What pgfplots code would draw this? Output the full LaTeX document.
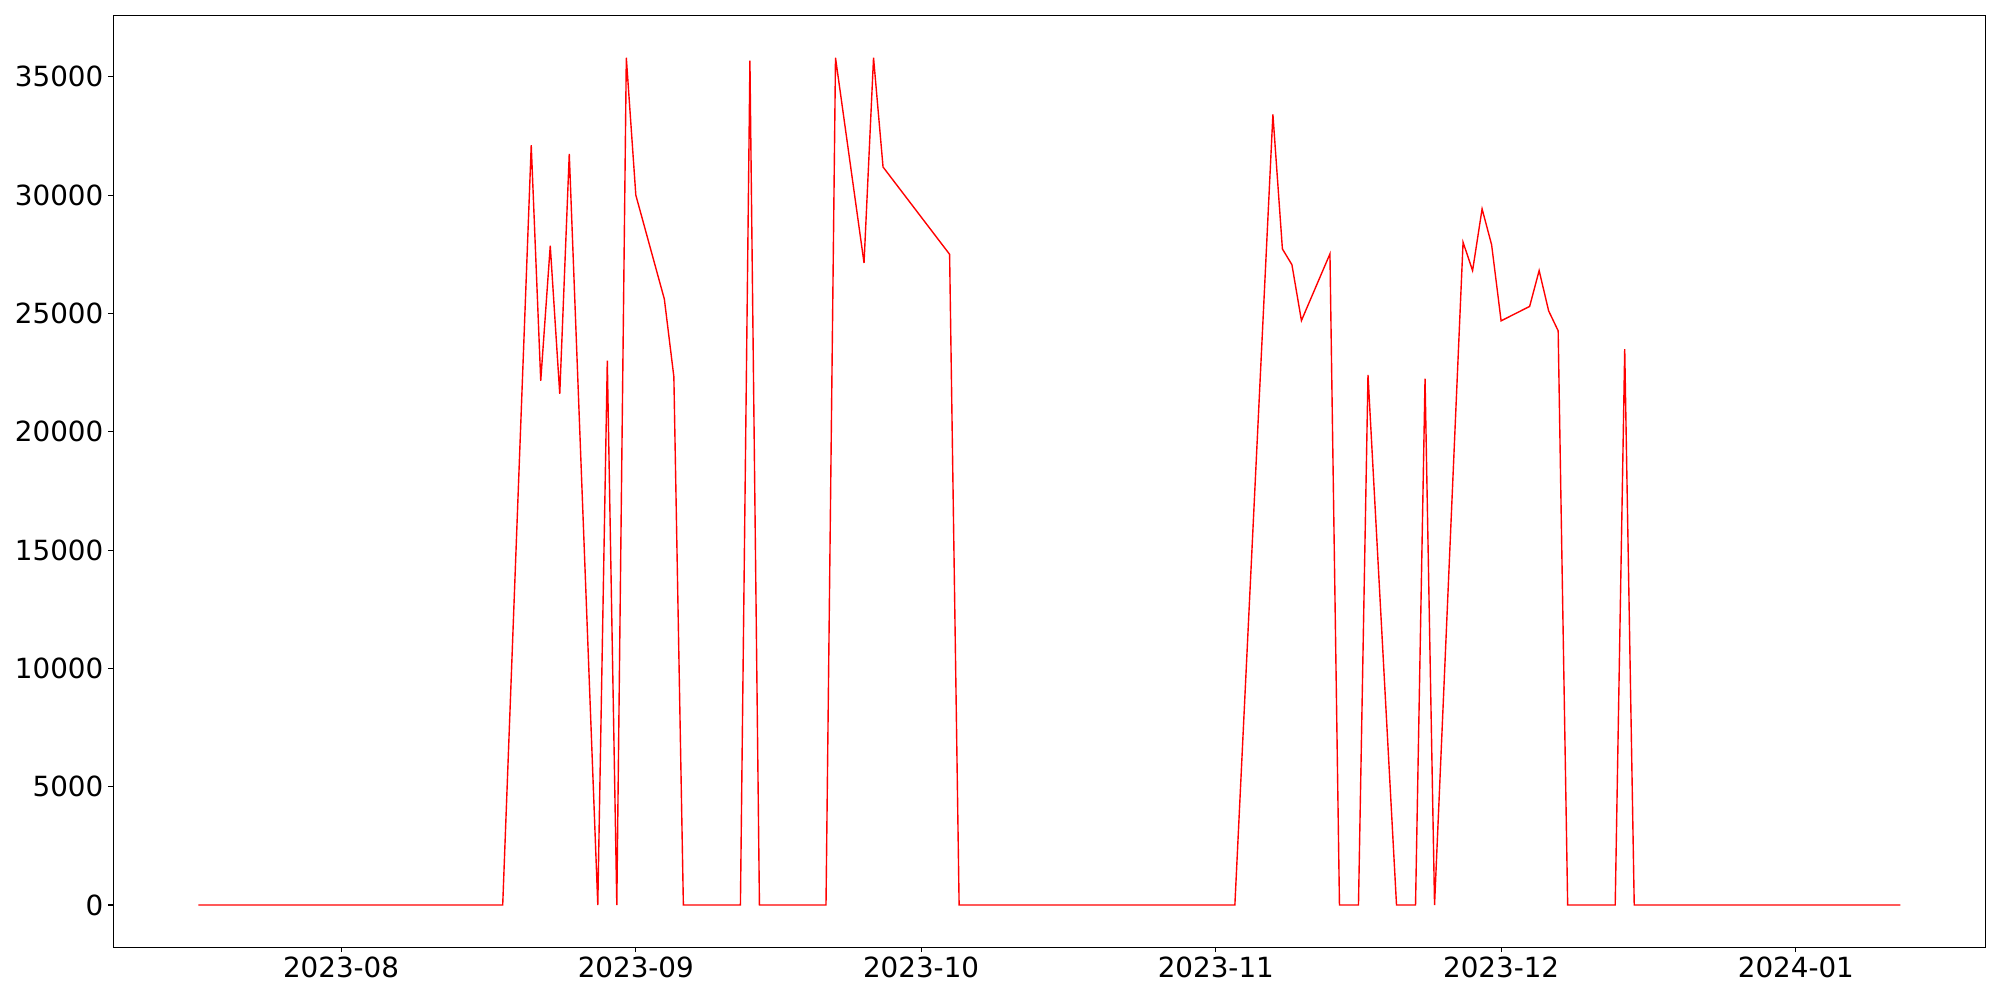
\documentclass[border=0pt]{standalone}
\usepackage{fontspec}
\setmainfont{DejaVu Sans}
\usepackage{pgfplots}
\pgfplotsset{compat=1.18}
\pgfplotstableread{
x y
-15 0
17 0
20 32112
21 22157
22 27863
23 21599
24 31748
27 0
28 23007
29 0
30 35806
31 30000
34 25605
35 22327
36 0
42 0
43 35681
44 0
51 0
52 35806
55 27135
56 35806
57 31189
64 27499
65 0
94 0
98 33412
99 27726
100 27061
101 24699
104 27519
105 0
107 0
108 22406
111 0
113 0
114 22245
115 0
118 28010
119 26812
120 29419
121 27905
122 24688
125 25298
126 26812
127 25108
128 24267
129 0
134 0
135 23489
136 0
164 0
}\datatable
\begin{document}
\fontsize{20bp}{24bp}\selectfont
\begin{tikzpicture}
\begin{axis}[
  name=main,
  scale only axis,
  width=1348bp, height=671bp,
  xmin=-23.95, xmax=172.95,
  ymin=-1790.3, ymax=37596.3,
  xtick={0,31,61,92,122,153},
  xticklabels={2023-08,2023-09,2023-10,2023-11,2023-12,2024-01},
  ytick={0,5000,10000,15000,20000,25000,30000,35000},
  scaled y ticks=false,
  /pgf/number format/1000 sep={},
  /pgf/number format/assume math mode=true,
  xtick pos=lower, ytick pos=left,
  tick align=outside,
  major tick length=3.5bp,
  tick style={black, line width=0.8bp},
  axis line style={black, line width=0.8bp},
  ticklabel style={font=\fontsize{20bp}{24bp}\selectfont, inner sep=0pt},
  yticklabel style={xshift=-3.5bp},
  xticklabel style={yshift=-3.5bp},
]
\addplot[red, line width=1bp] table[x=x,y=y] {\datatable};
\end{axis}
\pgfresetboundingbox
\path[use as bounding box] ([xshift=-81.6bp,yshift=-37.9bp]main.south west) rectangle ([xshift=10.4bp,yshift=11.1bp]main.north east);
\end{tikzpicture}
\end{document}
